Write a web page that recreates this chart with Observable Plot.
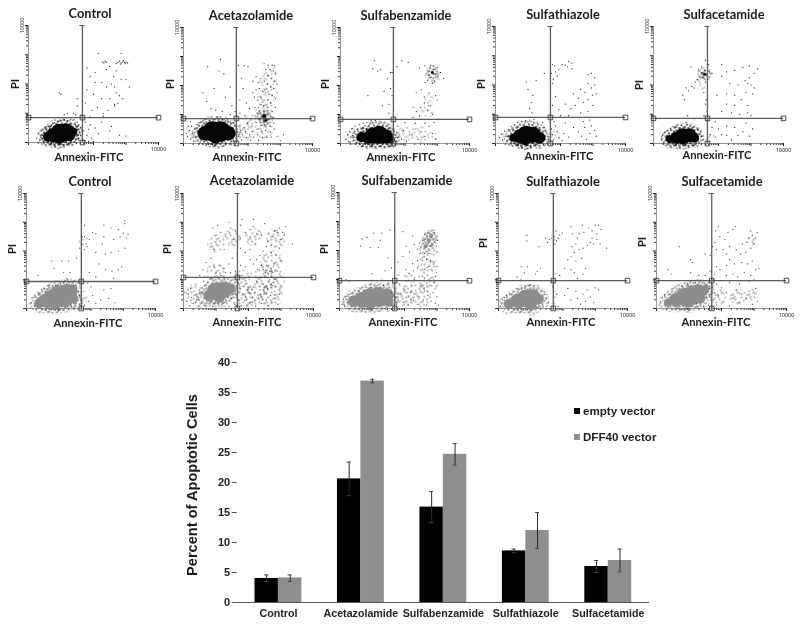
<!DOCTYPE html>
<html><head><meta charset="utf-8">
<script src="https://cdn.jsdelivr.net/npm/d3@7"></script>
<script src="https://cdn.jsdelivr.net/npm/@observablehq/plot@0.6"></script>
<style>
html,body{margin:0;padding:0;background:#fff}
#fig{position:relative;width:800px;height:627px;overflow:hidden;background:#fff;filter:blur(0.4px)}
#fig>div{position:absolute}
#fig svg{background:transparent}
.lab{position:absolute;font-family:Lato,sans-serif;font-weight:700;color:#1c1c1c;white-space:nowrap;line-height:1;transform:translate(-50%,-50%)}
.leg{position:absolute;font-family:"Liberation Sans",Arial,sans-serif;font-weight:700;font-size:11.6px;color:#1c1c1c;white-space:nowrap;line-height:1}
.sw{position:absolute;width:6px;height:6px}
</style></head><body>
<svg width="0" height="0" style="position:absolute" id="defs"></svg>
<div id="fig"></div>
<script>
// Bar chart values
const treatments=["Control","Acetazolamide","Sulfabenzamide","Sulfathiazole","Sulfacetamide"];
const vectors=["empty vector","DFF40 vector"];
const emptyMean=[4,20.6,15.9,8.6,6];
const emptyLow=[3.5,17.8,13.3,8.3,5];
const emptyHigh=[4.6,23.4,18.5,8.9,7];
const dffMean=[4.1,36.9,24.7,12,7];
const dffLow=[3.5,36.6,22.9,9,5.1];
const dffHigh=[4.6,37.2,26.5,15,8.9];

// Flow cytometry dots, in channel units (100 = one log decade)
const tick10000="10000";
const topControlCore=[[60,20,6],[75,25,8],[95,33,10],[115,35,10],[95,20,8],[125,25,7],[138,38,5]];
const topControlCloud=[];
const topControlDots=[[228,276],[232,272],[236,278],[240,274],[275,274],[280,278],[285,272],[290,276],[295,274],[298,270],[283,268],[292,280],[300,275],[270,270],[305,272],[215,305],[285,305],[250,260],[240,250],[205,240],[180,255],[270,245],[262,225],[255,200],[240,190],[265,190],[285,215],[300,215],[310,190],[225,205],[205,205],[190,225],[180,180],[200,165],[225,150],[250,150],[270,170],[280,160],[290,150],[265,130],[245,110],[230,100],[212,120],[195,110],[175,135],[165,95],[190,88],[230,90],[265,125],[275,135],[100,165],[95,170],[150,150],[150,125],[138,100],[120,100],[110,95],[145,95],[175,70],[190,60],[205,50],[225,70],[250,40],[280,25],[300,22],[255,55],[180,25],[195,15],[215,30],[170,40],[185,45],[25,15],[30,30],[35,8],[40,40],[45,25],[50,50],[55,12],[60,55],[70,60],[80,68],[90,72],[100,75],[110,78],[120,75],[130,80],[140,78],[150,70],[155,60],[160,50],[165,40],[160,25],[165,15],[170,8],[155,8],[145,60],[150,45],[45,5],[38,18],[70,3],[100,3],[130,3],[128,65],[55,40],[65,48],[175,5],[185,4],[200,3],[48,32],[52,18],[42,12]];
const topAcetaCore=[[65,35,8],[90,42,11],[115,42,11],[140,35,8],[100,24,8],[250,95,3],[255,80,2.5]];
const topAcetaCloud=[[30,40,8],[195,40,9],[210,85,7],[250,50,10],[252,110,10],[255,160,9],[262,210,9],[268,250,7]];
const topAcetaDots=[[12,25],[18,45],[22,15],[25,60],[28,35],[32,8],[35,50],[38,25],[42,65],[45,12],[48,72],[22,75],[15,60],[30,22],[8,35],[52,5],[60,78],[70,85],[80,80],[90,75],[105,88],[120,82],[130,78],[145,75],[155,70],[160,60],[165,50],[168,38],[170,25],[165,12],[155,8],[175,62],[178,45],[182,30],[180,12],[188,55],[192,40],[195,20],[198,70],[200,50],[205,30],[208,12],[210,85],[212,60],[215,42],[218,22],[222,95],[225,72],[228,50],[230,30],[232,12],[235,110],[238,88],[240,62],[243,40],[245,20],[248,130],[250,110],[252,65],[255,45],[258,22],[260,125],[262,105],[265,85],[268,60],[270,40],[272,22],[240,135],[232,125],[228,105],[222,125],[275,110],[278,90],[280,70],[282,50],[285,125],[270,140],[262,150],[250,150],[240,160],[230,150],[220,160],[215,175],[225,185],[235,190],[245,180],[255,175],[265,170],[275,165],[285,155],[290,175],[280,190],[270,195],[260,205],[250,215],[240,225],[232,210],[225,230],[215,215],[262,235],[272,225],[282,215],[290,205],[268,255],[278,250],[285,240],[255,255],[262,270],[275,270],[282,268],[250,275],[200,265],[188,268],[170,270],[115,290],[75,265],[110,250],[125,240],[60,175],[72,145],[85,120],[95,190],[145,195],[130,160],[150,130],[160,110],[145,100],[120,110],[100,115],[180,225],[185,190],[195,140],[205,120],[175,150],[175,105],[190,95],[300,10],[310,30],[290,25]];
const topSulfabCore=[[65,22,6],[85,20,7],[100,28,9],[120,30,10],[140,25,8],[155,15,5],[285,245,2.5]];
const topSulfabCloud=[[38,25,9],[200,30,8],[245,30,9],[285,25,5],[268,110,7],[272,150,6],[285,232,8]];
const topSulfabDots=[[18,15],[22,30],[25,8],[28,42],[32,22],[36,52],[40,12],[42,36],[45,60],[50,4],[52,48],[58,66],[38,28],[30,5],[48,20],[60,6],[70,70],[82,72],[95,78],[108,80],[122,75],[135,70],[150,65],[160,50],[165,35],[170,20],[172,8],[160,5],[178,60],[182,30],[190,15],[195,45],[205,8],[215,30],[225,50],[240,15],[250,40],[262,25],[275,60],[285,35],[295,15],[200,72],[232,70],[262,70],[290,72],[225,125],[235,110],[248,125],[260,140],[270,115],[285,100],[245,95],[225,90],[280,130],[260,160],[275,175],[295,165],[250,185],[235,175],[300,150],[262,210],[272,235],[280,228],[290,255],[296,240],[302,230],[276,250],[292,215],[285,208],[270,218],[300,262],[288,268],[280,270],[310,245],[320,225],[262,268],[245,260],[210,280],[190,285],[175,265],[155,245],[145,225],[125,255],[105,285],[100,258],[115,250],[85,165],[135,180],[155,190],[160,165],[150,135],[130,130],[150,105],[165,110],[160,245]];
const topSulfathCore=[[55,20,5],[75,25,8],[95,30,10],[115,30,9],[135,20,7],[90,12,6]];
const topSulfathCloud=[[30,20,5],[180,25,6]];
const topSulfathDots=[[12,20],[18,32],[22,12],[28,42],[32,25],[36,8],[40,48],[45,14],[50,58],[58,64],[68,72],[80,75],[92,78],[105,80],[118,82],[130,70],[145,72],[150,55],[155,40],[160,25],[162,12],[148,8],[168,70],[172,50],[175,30],[178,12],[185,60],[190,40],[195,20],[205,10],[210,35],[225,22],[240,55],[255,40],[265,25],[275,55],[280,15],[290,35],[295,60],[305,45],[310,25],[180,75],[215,70],[270,75],[290,80],[175,270],[182,265],[172,240],[185,245],[195,252],[205,270],[215,268],[222,262],[225,280],[235,275],[178,220],[190,230],[235,255],[175,205],[285,235],[295,240],[305,225],[285,205],[295,190],[305,200],[310,170],[298,165],[285,150],[270,140],[255,155],[245,130],[232,120],[215,135],[195,115],[175,130],[185,160],[240,170],[262,185],[275,175],[300,130],[285,110],[262,105],[225,95],[200,95],[112,105],[105,120],[110,140],[115,165],[100,185],[125,215],[150,240],[95,210]];
const topSulfacCore=[[50,15,5],[70,20,7],[90,25,9],[110,28,8],[125,20,6],[157,237,2.5]];
const topSulfacCloud=[[150,228,7],[180,20,5],[150,195,4]];
const topSulfacDots=[[25,12],[28,28],[32,5],[35,38],[38,18],[42,45],[48,8],[52,52],[60,58],[72,62],[85,62],[100,72],[112,58],[125,58],[135,48],[140,35],[148,25],[152,12],[138,8],[165,15],[175,30],[190,22],[210,30],[225,28],[180,55],[200,50],[225,60],[250,55],[275,40],[295,25],[305,50],[285,70],[240,12],[260,28],[165,75],[190,75],[125,85],[105,95],[155,95],[165,110],[210,110],[240,105],[265,100],[290,105],[300,95],[225,135],[250,130],[270,150],[290,130],[195,165],[225,170],[250,165],[285,175],[305,170],[300,200],[290,205],[310,190],[282,215],[295,225],[260,200],[235,205],[210,230],[225,245],[250,250],[275,260],[295,265],[310,240],[320,255],[210,270],[160,285],[170,270],[138,252],[148,262],[152,225],[160,210],[142,228],[135,218],[128,210],[165,232],[172,245],[180,240],[148,242],[158,250],[118,195],[108,180],[100,190],[125,190],[90,165],[95,150],[115,262],[160,135],[155,175],[162,150]];
const botControlCore=[[40,18,6],[60,28,8],[80,35,10],[100,45,11],[120,52,10],[135,60,8],[90,22,8],[120,30,8],[145,35,6]];
const botControlCloud=[[178,235,5],[175,30,4]];
const botControlDots=[[15,20],[20,38],[25,8],[30,40],[38,55],[48,65],[55,68],[70,75],[90,80],[105,85],[125,85],[145,80],[155,75],[160,58],[165,45],[168,30],[165,15],[150,10],[140,6],[178,60],[185,40],[192,25],[180,12],[205,45],[215,18],[230,30],[255,35],[275,20],[240,65],[262,70],[200,75],[190,88],[150,95],[125,105],[135,125],[115,125],[130,165],[155,175],[170,190],[180,205],[165,210],[172,225],[185,225],[195,240],[180,250],[172,250],[188,215],[205,265],[215,260],[240,250],[262,280],[285,275],[305,295],[270,240],[290,250],[300,262],[310,245],[315,258],[245,190],[262,195],[285,200],[305,210],[235,225],[215,195],[225,155],[245,135],[265,130],[285,135],[295,145],[270,105],[215,110],[195,125],[78,165],[85,140],[110,165],[35,115],[180,290],[240,290],[305,305]];
const botAcetaCore=[[80,45,7],[100,60,10],[125,65,9],[145,70,6],[110,40,7]];
const botAcetaCloud=[[30,50,10],[60,30,9],[185,40,12],[225,50,12],[270,45,12],[280,100,11],[250,110,11],[270,165,11],[285,245,10],[180,105,9],[100,125,10],[100,225,9],[150,245,9],[215,250,9]];
const botAcetaDots=[[10,25],[15,50],[18,10],[22,70],[25,38],[30,18],[32,60],[38,85],[40,30],[45,8],[48,52],[55,20],[58,72],[62,95],[68,10],[75,90],[82,22],[90,8],[95,110],[105,18],[118,12],[125,105],[132,20],[140,8],[148,35],[150,108],[158,15],[162,50],[168,90],[170,30],[174,70],[178,10],[180,115],[183,52],[188,28],[190,85],[195,12],[198,65],[202,100],[205,40],[208,120],[212,22],[215,75],[218,55],[222,8],[225,95],[228,135],[232,35],[235,65],[238,110],[240,18],[245,85],[248,50],[252,125],[255,30],[258,70],[260,145],[262,10],[265,100],[268,45],[270,120],[272,22],[275,80],[278,155],[280,60],[282,35],[285,100],[288,130],[290,15],[295,50],[298,80],[300,165],[245,135],[255,150],[265,130],[275,125],[252,108],[240,150],[225,170],[235,185],[215,155],[205,170],[190,145],[175,150],[160,130],[145,125],[130,125],[115,115],[100,125],[85,105],[65,110],[50,115],[110,150],[125,140],[140,155],[95,145],[85,175],[70,160],[60,135],[150,175],[165,190],[175,210],[190,195],[205,205],[220,225],[245,200],[255,215],[270,195],[285,185],[295,210],[285,235],[300,240],[275,250],[290,265],[305,265],[280,270],[310,255],[295,280],[315,285],[262,260],[240,255],[225,260],[205,250],[190,265],[175,245],[160,270],[145,280],[130,250],[115,265],[105,290],[90,280],[100,255],[85,225],[95,205],[125,205],[140,225],[155,240],[175,290],[215,285],[250,295],[215,310],[180,310],[140,300],[270,220],[260,235],[335,225]];
const botSulfabCore=[[45,25,7],[70,30,9],[95,35,11],[120,40,11],[145,45,8],[150,25,6],[275,235,3],[282,250,3],[265,215,3]];
const botSulfabCloud=[[25,25,6],[195,45,11],[245,45,12],[275,90,10],[272,150,10],[275,200,8],[278,240,8],[215,105,6]];
const botSulfabDots=[[8,15],[12,32],[16,8],[20,42],[25,22],[30,48],[160,55],[168,70],[172,40],[165,85],[150,88],[135,80],[115,78],[95,72],[75,62],[60,60],[100,95],[130,98],[160,10],[175,15],[180,30],[188,50],[195,22],[200,65],[205,38],[212,12],[218,55],[222,80],[228,28],[235,62],[240,15],[245,40],[250,85],[258,30],[262,60],[268,12],[272,45],[278,80],[282,25],[288,55],[295,18],[300,42],[305,12],[185,85],[205,95],[230,100],[245,110],[262,105],[275,100],[290,90],[295,110],[215,120],[228,130],[240,140],[252,150],[262,135],[275,145],[285,130],[298,125],[225,155],[240,165],[255,175],[268,170],[280,165],[292,160],[300,145],[248,190],[262,190],[275,190],[290,185],[300,195],[240,205],[250,210],[298,215],[302,235],[300,250],[292,262],[282,268],[272,262],[262,255],[255,235],[245,225],[230,220],[215,195],[225,250],[205,215],[195,265],[170,265],[155,270],[130,260],[105,260],[85,245],[65,215],[70,240],[95,210],[125,235],[120,210],[150,175],[160,140],[180,115],[205,135],[140,130],[180,160],[195,180],[20,100],[30,95],[100,120]];
const botSulfathCore=[[32,16,6],[60,28,8],[85,35,10],[105,40,9],[125,32,6],[60,14,5],[100,15,7]];
const botSulfathCloud=[[178,240,4]];
const botSulfathDots=[[5,8],[8,20],[12,30],[18,38],[25,45],[35,52],[45,60],[58,68],[72,72],[85,78],[98,82],[112,80],[122,72],[135,62],[142,50],[148,35],[155,20],[150,8],[138,5],[168,75],[172,60],[175,40],[172,18],[180,50],[185,8],[205,45],[215,70],[225,30],[240,60],[245,35],[255,15],[262,50],[270,25],[275,65],[285,40],[295,20],[300,72],[310,65],[165,95],[70,145],[80,125],[58,110],[70,100],[120,130],[130,140],[115,120],[90,145],[175,120],[190,115],[205,140],[225,135],[235,125],[245,105],[262,120],[270,140],[215,170],[225,180],[240,165],[258,175],[235,195],[228,215],[240,225],[250,205],[262,210],[275,220],[285,230],[295,225],[305,240],[315,225],[305,260],[290,270],[280,280],[265,265],[250,260],[245,245],[230,260],[225,285],[300,290],[310,290],[318,275],[260,290],[290,245],[178,270],[172,250],[158,240],[165,245],[180,235],[185,245],[175,225],[190,255],[198,262],[145,245],[152,230],[88,255],[88,235],[125,215],[335,210]];
const botSulfacCore=[[35,20,5],[60,30,8],[85,40,10],[110,50,10],[130,60,8],[150,65,5],[100,25,7],[135,35,6]];
const botSulfacCloud=[[190,40,8],[250,40,8],[290,45,7],[290,235,5],[165,75,5]];
const botSulfacDots=[[8,12],[12,25],[18,38],[25,48],[35,58],[48,68],[60,75],[78,78],[95,88],[105,95],[120,90],[135,95],[148,88],[155,82],[162,70],[165,50],[168,30],[160,12],[145,8],[175,100],[172,75],[178,55],[175,30],[185,12],[190,45],[200,72],[205,25],[215,55],[225,10],[235,35],[245,65],[255,20],[262,50],[275,35],[285,60],[295,15],[300,40],[305,70],[310,25],[185,85],[225,90],[255,85],[285,95],[300,100],[178,120],[185,145],[195,135],[215,115],[235,120],[250,110],[270,125],[290,115],[305,135],[165,130],[150,115],[130,115],[105,125],[105,170],[110,160],[45,120],[35,135],[215,150],[225,170],[240,155],[262,160],[280,155],[295,165],[215,190],[205,205],[225,215],[245,205],[258,190],[275,195],[290,210],[300,225],[285,245],[295,255],[305,245],[310,265],[290,270],[278,230],[265,225],[210,240],[220,265],[235,275],[242,285],[165,185],[172,215],[150,190],[180,230],[185,205],[182,270],[190,285],[195,250],[70,215],[315,140]];

const panels=[
 {t:"Control",core:topControlCore,cloud:topControlCloud,dots:topControlDots,L:28,R:158,T:25,B:142,vg:166,hg:85,tx:90,ty:13,ax:89,ay:157,px:15,py:84,dark:true},
 {t:"Acetazolamide",core:topAcetaCore,cloud:topAcetaCloud,dots:topAcetaDots,L:183,R:312,T:27,B:143,vg:164,hg:86,tx:251,ty:15,ax:247,ay:157,px:170,py:84,dark:true},
 {t:"Sulfabenzamide",core:topSulfabCore,cloud:topSulfabCloud,dots:topSulfabDots,L:340,R:469,T:27,B:143,vg:164,hg:83,tx:406,ty:15,ax:401,ay:157,px:325,py:84,dark:true},
 {t:"Sulfathiazole",core:topSulfathCore,cloud:topSulfathCloud,dots:topSulfathDots,L:495,R:625,T:26,B:143,vg:169,hg:89,tx:563,ty:14,ax:559,ay:156,px:481,py:84,dark:true},
 {t:"Sulfacetamide",core:topSulfacCore,cloud:topSulfacCloud,dots:topSulfacDots,L:653,R:783,T:26,B:143,vg:166,hg:86,tx:724,ty:14,ax:717,ay:155,px:639,py:85,dark:true},
 {t:"Control",core:botControlCore,cloud:botControlCloud,dots:botControlDots,L:26,R:155,T:193,B:308,vg:170,hg:94,tx:90,ty:181,ax:88,ay:323,px:12,py:249,dark:false},
 {t:"Acetazolamide",core:botAcetaCore,cloud:botAcetaCloud,dots:botAcetaDots,L:183,R:313,T:193,B:308,vg:166,hg:108,tx:252,ty:180,ax:247,ay:322,px:167,py:249,dark:false},
 {t:"Sulfabenzamide",core:botSulfabCore,cloud:botSulfabCloud,dots:botSulfabDots,L:339,R:469,T:192,B:308,vg:170,hg:96,tx:407,ty:180,ax:403,ay:322,px:324,py:249,dark:false},
 {t:"Sulfathiazole",core:botSulfathCore,cloud:botSulfathCloud,dots:botSulfathDots,L:498,R:627,T:193,B:308,vg:170,hg:97,tx:563,ty:181,ax:561,ay:322,px:483,py:243,dark:false},
 {t:"Sulfacetamide",core:botSulfacCore,cloud:botSulfacCloud,dots:botSulfacDots,L:656,R:786,T:193,B:308,vg:170,hg:97,tx:722,ty:181,ax:716,ay:322,px:642,py:242,dark:false}
];

// stipple fills that give the dense clouds their grain
const denseTile=[[1,1],[4.5,0.5],[7.5,2],[2.5,4],[6,4.5],[0.5,6.5],[4,7.5],[8,7]];
const looseTile=[[1,2],[6,1],[11,3],[15,1],[3,6],[8,7],[13,8],[1,11],[6,12],[10,11],[15,12],[9,3.5],[5.5,9],[12,5.5],[2.5,14],[14,14.5]];
const tileDef=(id,tile,size,color,r)=>`<pattern id="${id}" patternUnits="userSpaceOnUse" width="${size}" height="${size}">`+tile.map(([x,y])=>`<circle cx="${x}" cy="${y}" r="${r}" fill="${color}"/>`).join("")+`</pattern>`;
document.getElementById("defs").innerHTML="<defs>"+
  tileDef("denseDark",denseTile,9,"#111",0.75)+tileDef("denseGrey",denseTile,9,"#707070",0.8)+
  tileDef("looseDark",looseTile,16,"#1c1c1c",0.62)+tileDef("looseGrey",looseTile,16,"#3c3c3c",0.65)+"</defs>";

const fig=document.getElementById("fig");
const decades=[0,100,200,300,400];
const minorTicks=[];
for(const d of [0,100,200,300]) for(let k=2;k<10;k++) minorTicks.push(d+100*Math.log10(k));
const fmtEnd=v=>v===400?tick10000:"";
const lineGrey="#5c5c5c";

function label(txt,x,y,size,rot){
  const s=document.createElement("span");
  s.className="lab";s.textContent=txt;
  s.style.left=x+"px";s.style.top=y+"px";s.style.fontSize=size+"px";
  if(rot) s.style.transform="translate(-50%,-50%) rotate(-90deg)";
  fig.appendChild(s);
}
function place(node,x,y){
  const d=document.createElement("div");
  d.style.left=x+"px";d.style.top=y+"px";
  d.appendChild(node);fig.appendChild(d);
}
for(const p of panels){
  const m=14;
  const coreFill=p.dark?"#050505":"#8d8d8d";
  const dotFill=p.dark?"#1a1a1a":"#3a3a3a";
  const w=p.R-p.L+2*m,h=p.B-p.T+2*m;
  const chart=Plot.plot({
    width:w,height:h,marginLeft:m,marginRight:m,marginTop:m,marginBottom:m,
    style:{background:"transparent",overflow:"visible"},
    x:{domain:[0,400]},y:{domain:[0,400]},r:{type:"identity"},
    marks:[
      Plot.axisX({ticks:minorTicks,tickSize:2,tickFormat:()=>"",stroke:"#333",label:null}),
      Plot.axisX({ticks:decades,tickSize:3,tickFormat:fmtEnd,fontSize:5.5,tickPadding:2,stroke:"#222",fill:"#222",label:null}),
      Plot.axisY({ticks:minorTicks,tickSize:2,tickFormat:()=>"",stroke:"#333",label:null}),
      Plot.axisY({ticks:decades,tickSize:3,tickFormat:fmtEnd,fontSize:5.5,tickRotate:-90,tickPadding:2,stroke:"#222",fill:"#222",label:null}),
      Plot.ruleX([0],{stroke:"#666",strokeWidth:0.7}),
      Plot.ruleY([0],{stroke:"#666",strokeWidth:0.7}),
      Plot.dot(p.cloud,{x:d=>d[0],y:d=>d[1],r:d=>d[2],fill:p.dark?"url(#looseDark)":"url(#looseGrey)",stroke:null}),
      Plot.dot(p.core,{x:d=>d[0],y:d=>d[1],r:d=>d[2]+4.5,fill:p.dark?"url(#denseDark)":"url(#denseGrey)",stroke:null}),
      Plot.dot(p.core,{x:d=>d[0],y:d=>d[1],r:d=>Math.max(d[2]-1,1.5),fill:coreFill,stroke:null}),
      Plot.dot(p.dots,{x:d=>d[0],y:d=>d[1],r:0.62,fill:dotFill,stroke:null}),
      Plot.ruleX([p.vg],{stroke:lineGrey,strokeWidth:1.3}),
      Plot.ruleY([p.hg],{stroke:lineGrey,strokeWidth:1.3}),
      Plot.ruleY([400],{x1:p.vg-8,x2:p.vg+8,stroke:lineGrey}),
      Plot.dot([[0,p.hg],[p.vg,p.hg],[400,p.hg],[p.vg,0]],{x:d=>d[0],y:d=>d[1],symbol:"square",r:2.6,fill:"none",stroke:"#3a3a3a",strokeWidth:0.9})
    ]
  });
  place(chart,p.L-m,p.T-m);
  label(p.t,p.tx,p.ty,12.9);
  label("Annexin-FITC",p.ax,p.ay,11.2);
  label("PI",p.px,p.py,11.5,true);
}

// Bar chart
const barRows=[];
treatments.forEach((c,i)=>{
  barRows.push({cat:c,vec:vectors[0],v:emptyMean[i],lo:emptyLow[i],hi:emptyHigh[i]});
  barRows.push({cat:c,vec:vectors[1],v:dffMean[i],lo:dffLow[i],hi:dffHigh[i]});
});
const barFont={fontFamily:"Liberation Sans, Arial, sans-serif",fontWeight:700,fill:"#222"};
const bars=Plot.plot({
  width:800,height:282,marginLeft:236.7,marginRight:151,marginTop:17,marginBottom:25,
  style:{background:"transparent",fontFamily:"Liberation Sans, Arial, sans-serif",overflow:"visible"},
  fx:{domain:treatments,padding:0,label:null,round:false},
  x:{domain:vectors,padding:0,paddingOuter:0.76,paddingInner:0,axis:null,round:false},
  y:{domain:[0,40],label:null},
  color:{domain:vectors,range:["#000000","#8f8f8f"]},
  marks:[
    Plot.barY(barRows,{fx:"cat",x:"vec",y:"v",fill:"vec"}),
    Plot.ruleX(barRows,{fx:"cat",x:"vec",y1:"lo",y2:"hi",stroke:"#2a2a2a",strokeWidth:1}),
    Plot.tickY(barRows,{fx:"cat",x:"vec",y:"hi",stroke:"#444",insetLeft:9.7,insetRight:9.7}),
    Plot.tickY(barRows,{fx:"cat",x:"vec",y:"lo",stroke:"#444",insetLeft:9.7,insetRight:9.7}),
    Plot.ruleY([0],{stroke:"#555",strokeWidth:1.2}),
    Plot.ruleX(treatments.slice(0,1),{fx:d=>d,y1:0,y2:40,dx:-41.2,stroke:"#555",strokeWidth:1.2}),
    Plot.ruleX(treatments,{fx:d=>d,y1:0,y2:-0.5,dx:-41.2,stroke:"#444"}),
    Plot.ruleX(treatments.slice(-1),{fx:d=>d,y1:0,y2:-0.5,dx:41.2,stroke:"#444"}),
    Plot.axisY({ticks:d3.range(0,41,5),tickSize:5,tickPadding:2,fontSize:11,...barFont,stroke:"#555",label:null}),
    Plot.axisFx({tickSize:0,tickPadding:7,fontSize:10.7,...barFont,label:null,anchor:"bottom"})
  ]
});
place(bars,0,345);
const yl=document.createElement("span");
yl.className="leg";yl.textContent="Percent of Apoptotic Cells";
yl.style.cssText="left:192px;top:485px;font-size:14.6px;transform:translate(-50%,-50%) rotate(-90deg)";
fig.appendChild(yl);
vectors.forEach((v,i)=>{
  const sw=document.createElement("div");sw.className="sw";
  sw.style.left="574px";sw.style.top=(408+26*i)+"px";sw.style.background=["#000","#8f8f8f"][i];
  fig.appendChild(sw);
  const t=document.createElement("span");t.className="leg";t.textContent=v;
  t.style.left="583px";t.style.top=(405+26*i)+"px";
  fig.appendChild(t);
});
</script></body></html>
